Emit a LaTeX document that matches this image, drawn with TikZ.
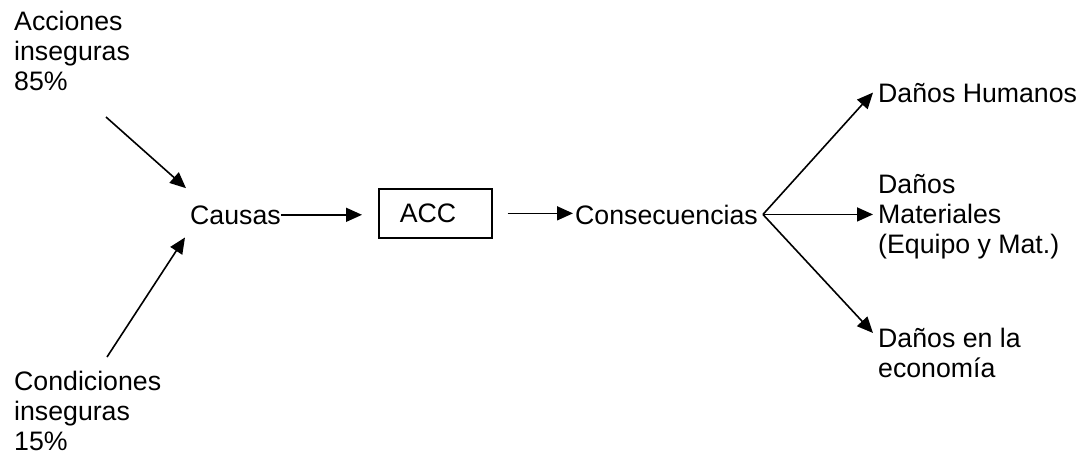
\documentclass[tikz,border=0pt]{standalone}
\usepackage{fontspec}
\setmainfont{Liberation Sans}
\usetikzlibrary{arrows.meta}

\begin{document}
\begin{tikzpicture}[
  x=1pt,y=-1pt,
  lbl/.style={font=\fontsize{26.7}{30}\selectfont,inner sep=0pt,align=left},
  mlbl/.style={lbl,anchor=north west,execute at begin node=\strut},
  box/.style={lbl,draw,line width=1.7pt,minimum height=49pt,
              text width=71pt,inner xsep=21pt},
  arr/.style={-{Triangle[length=16pt,width=14pt]},line width=1.6pt}
]
\useasboundingbox (0,0) rectangle (1085,453);
% causes
\node[mlbl] (accins)  at (14,11)  {Acciones\\inseguras\\85\%};
\node[mlbl] (condins) at (14,371) {Condiciones\\inseguras\\15\%};
\node[lbl,anchor=base west] (causas) at (190,224) {Causas};
\coordinate (accend)  at (106,117);
\coordinate (condend) at (107,357);
\draw[arr] (accend)  -- ([shift={(-4pt,17pt)}]causas.north west);
\draw[arr] (condend) -- ([shift={(-5pt,-13pt)}]causas.south west);
% accident
\node[box,anchor=north west] (acc) at (378,188) {ACC};
\draw[arr,shorten >=16pt] (causas.east) -- (causas.east -| acc.west);
% consequences
\node[lbl,anchor=base west] (consec) at (575,224) {Consecuencias};
\draw[arr,shorten <=15pt,shorten >=2pt] (acc.east) -- (acc.east -| consec.west);
\coordinate (fan) at ([xshift=5pt]consec.east);
\node[lbl,anchor=base west] (hum) at (878,102) {Daños Humanos};
\node[mlbl] (mat) at (878,174) {Daños\\Materiales\\(Equipo y Mat.)};
\node[mlbl] (eco) at (878,328) {Daños en la\\economía};
\draw[arr] (fan) -- ([xshift=-5pt]hum.west);
\draw[arr] (fan) -- ([xshift=-5pt]fan -| mat.west);
\draw[arr] (fan) -- ([shift={(-5pt,-5pt)}]eco.north west);
\end{tikzpicture}
\end{document}
